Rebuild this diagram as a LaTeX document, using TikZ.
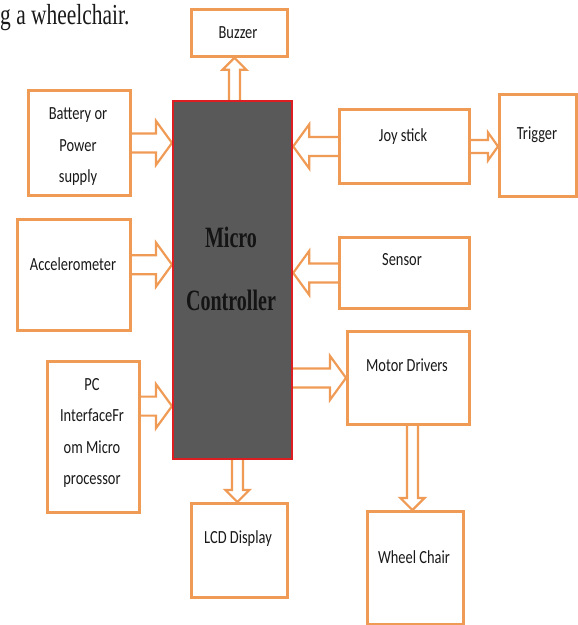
\documentclass[tikz,border=0pt]{standalone}
\usepackage{fontspec}
\usetikzlibrary{calc,backgrounds}
\newfontfamily\boxfont[FakeStretch=0.78]{Carlito}
\newfontfamily\mcfont[FakeStretch=0.68]{Liberation Serif}
\newfontfamily\capfont[FakeStretch=0.74]{Liberation Serif}
\definecolor{boxorange}{RGB}{240,155,85}
\definecolor{mcgray}{RGB}{89,89,89}
\definecolor{mcred}{RGB}{220,30,35}
\definecolor{inktext}{RGB}{25,25,25}
\tikzset{
  box/.style={draw=boxorange, line width=2.8pt, fill=white, anchor=north west, inner sep=0pt},
  mcbox/.style={draw=mcred, line width=2.2pt, fill=mcgray, anchor=north west, inner sep=0pt},
  boxtext/.style={font=\boxfont\fontsize{18.5}{31.5}\selectfont, text=inktext, align=center, inner sep=0pt},
  mctext/.style={font=\mcfont\bfseries\fontsize{29.5}{63}\selectfont, text=black!92, align=center, inner sep=0pt},
  ba shaft/.store in=\bashaft, ba head/.store in=\bahead, ba len/.store in=\balen,
  ba shaft=9pt, ba head=21pt, ba len=15pt,
  % hollow block arrow from start to target
  blockarrow/.style={draw=boxorange, line width=2.2pt, fill=white, line join=miter,
    to path={
      ($(\tikztotarget)!\balen!(\tikztostart)$) coordinate (bahd)
      ($(\tikztostart)!\bashaft!90:(\tikztotarget)$)
      -- ($(bahd)!\bashaft!90:(\tikztotarget)$)
      -- ($(bahd)!\bahead!90:(\tikztotarget)$)
      -- (\tikztotarget)
      -- ($(bahd)!\bahead!-90:(\tikztotarget)$)
      -- ($(bahd)!\bashaft!-90:(\tikztotarget)$)
      -- ($(\tikztostart)!\bashaft!-90:(\tikztotarget)$)
    }},
  bigarrow/.style={blockarrow, ba shaft=9.5pt, ba head=22pt, ba len=16pt},
  trigarrow/.style={blockarrow, ba shaft=6.5pt, ba head=14pt, ba len=10pt},
  smallarrow/.style={blockarrow, ba shaft=5.5pt, ba head=12pt, ba len=12pt},
}
\begin{document}
\begin{tikzpicture}[x=1pt, y=-1pt]
    \useasboundingbox (0,0) rectangle (578,625);
    \node[anchor=base west, inner sep=0pt, font=\capfont\fontsize{29}{32}\selectfont, text=inktext] (cap) at (0,24) {g a wheelchair.};

    % blocks
    \node[box, minimum width=96, minimum height=47] (buz) at (190,8) {};
    \node[box, minimum width=102, minimum height=105] (bat) at (27,89) {};
    \node[box, minimum width=113, minimum height=111] (acc) at (16,218) {};
    \node[box, minimum width=92, minimum height=151] (pc) at (46,360) {};
    \node[mcbox, minimum width=119, minimum height=358] (mc) at (172,100) {};
    \node[box, minimum width=96, minimum height=94] (lcd) at (190,502) {};
    \node[box, minimum width=130, minimum height=74] (joy) at (338,108) {};
    \node[box, minimum width=77, minimum height=102] (trig) at (498,93) {};
    \node[box, minimum width=130, minimum height=71] (sen) at (338,236) {};
    \node[box, minimum width=122, minimum height=93] (mot) at (346,330) {};
    \node[box, minimum width=96, minimum height=113] (whl) at (366,510) {};

    % texts
    \node[boxtext] (buztxt) at (238,33) {Buzzer};
    \node[boxtext] (battxt) at (78,147) {Battery or\\Power\\supply};
    \node[boxtext] (acctxt) at (73,264) {Accelerometer};
    \node[boxtext] (pctxt) at (92,433) {PC\\InterfaceFr\\om Micro\\processor};
    \node[boxtext] (lcdtxt) at (238,539) {LCD Display};
    \node[boxtext] (joytxt) at (403,137) {Joy stick};
    \node[boxtext] (trigtxt) at (537,135) {Trigger};
    \node[boxtext] (sentxt) at (402,260) {Sensor};
    \node[boxtext] (mottxt) at (407,365) {Motor Drivers};
    \node[boxtext] (whltxt) at (414,557) {Wheel Chair};
    \node[mctext] (mctxt) at (231,268.5) {Micro\\Controller};

    \coordinate (accout) at ($(acc.north east)!0.41!(acc.south east)$);
    \coordinate (pcout) at ($(pc.north east)!0.3!(pc.south east)$);
    \coordinate (buzin) at ($(buz.south west)!0.45!(buz.south east)$);
    \coordinate (lcdin) at ($(lcd.north west)!0.48!(lcd.north east)$);
    \coordinate (whlin) at ($(whl.north west)!0.47!(whl.north east)$);

    \begin{scope}[on background layer]
    \fill[white] (0,0) rectangle (578,625);
    \draw[bigarrow] (bat.east) to (bat.east -| mc.west);
    \draw[bigarrow] (accout) to (accout -| mc.west);
    \draw[bigarrow] (pcout) to (pcout -| mc.west);
    \draw[bigarrow] (joy.west) to (joy.west -| mc.east);
    \draw[bigarrow] (sen.west) to (sen.west -| mc.east);
    \draw[bigarrow] (mot.west -| mc.east) to (mot.west);
    \draw[trigarrow] (joy.east) to (joy.east -| trig.west);
    \draw[smallarrow] (buzin |- mc.north) to (buzin);
    \draw[smallarrow] (lcdin |- mc.south) to (lcdin);
    \draw[smallarrow] (whlin |- mot.south) to (whlin);
    \end{scope}
\end{tikzpicture}
\end{document}
